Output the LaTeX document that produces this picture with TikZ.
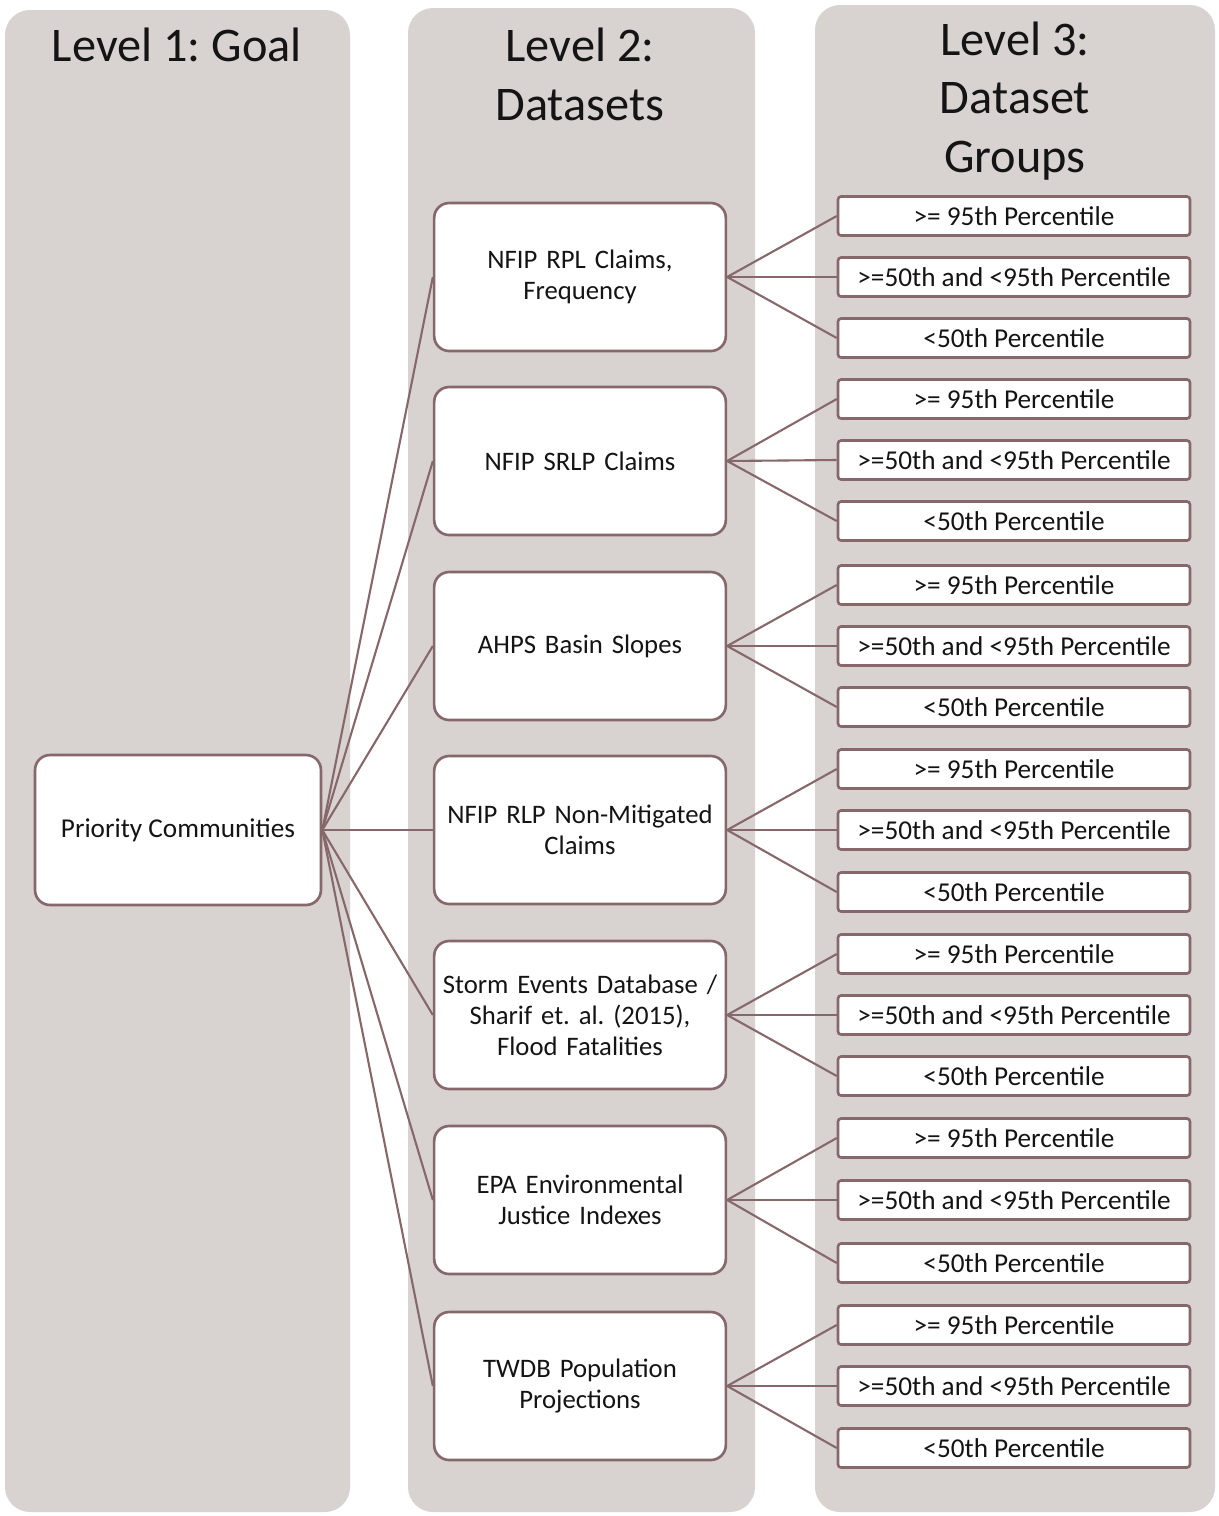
\documentclass[tikz,border=0pt]{standalone}
\usepackage{fontspec}
\setmainfont{Carlito}
\usepackage{tikz}
\frenchspacing
\definecolor{colbg}{RGB}{216,211,209}
\definecolor{edgec}{RGB}{135,104,106}
\definecolor{txt}{RGB}{20,20,20}
\tikzset{
	column/.style={fill=colbg, draw=none, rounded corners=0.5cm},
	head/.style={font=\fontsize{27.5}{33.5}\selectfont, text=txt, align=center},
	goalbox/.style={draw=edgec, line width=1.5pt, fill=white, rounded corners=0.3cm, minimum width=5.72cm, minimum height=3cm, font=\fontsize{15.5}{17.6}\selectfont, text=txt, align=center},
	setbox/.style={draw=edgec, line width=1.5pt, fill=white, rounded corners=0.3cm, minimum width=5.76cm, minimum height=2.96cm, font=\fontsize{15.2}{17.6}\selectfont, text=txt, align=center, text width=5.6cm},
	grpbox/.style={draw=edgec, line width=1.5pt, fill=white, rounded corners=0.06cm, minimum width=7.04cm, minimum height=0.78cm, font=\fontsize{15.5}{17}\selectfont, text=txt, align=center, inner sep=0pt},
	link/.style={draw=edgec, line width=1.2pt}
}

\begin{document}
\begin{tikzpicture}[x=0.02cm, y=-0.02cm]
			%%%%% START %%%%%
			\useasboundingbox (0, 0) rectangle (1219, 1516);
			
			\fill[column] (5, 10) rectangle (350, 1512);
			\fill[column] (408, 8) rectangle (755, 1512);
			\fill[column] (815, 5) rectangle (1215, 1512);
			
			\node[head] (h1) at (177, 45) {Level 1: Goal};
			\node[head] (h2) at (580, 74) {Level 2:\\Datasets};
			\node[head] (h3) at (1015, 101) {Level 3:\\Dataset\\Groups};
			
			\node[goalbox] (pc) at (178, 830) {Priority Communities};
			
			\node[setbox] (ds1) at (580, 277) {NFIP RPL Claims,\\Frequency};
			\node[setbox] (ds2) at (580, 461) {NFIP SRLP Claims};
			\node[setbox] (ds3) at (580, 646) {AHPS Basin Slopes};
			\node[setbox] (ds4) at (580, 830) {NFIP RLP Non-Mitigated\\Claims};
			\node[setbox] (ds5) at (580, 1015) {Storm Events Database /\\Sharif et. al. (2015),\\Flood Fatalities};
			\node[setbox] (ds6) at (580, 1200) {EPA Environmental\\Justice Indexes};
			\node[setbox] (ds7) at (580, 1386) {TWDB Population\\Projections};
			
			\node[grpbox] (g1a) at (1014, 216) {>= 95th Percentile};
			\node[grpbox] (g1b) at (1014, 277) {>=50th and <95th Percentile};
			\node[grpbox] (g1c) at (1014, 338) {<50th Percentile};
			
			\node[grpbox] (g2a) at (1014, 399) {>= 95th Percentile};
			\node[grpbox] (g2b) at (1014, 460) {>=50th and <95th Percentile};
			\node[grpbox] (g2c) at (1014, 521) {<50th Percentile};
			
			\node[grpbox] (g3a) at (1014, 585) {>= 95th Percentile};
			\node[grpbox] (g3b) at (1014, 646) {>=50th and <95th Percentile};
			\node[grpbox] (g3c) at (1014, 707) {<50th Percentile};
			
			\node[grpbox] (g4a) at (1014, 769) {>= 95th Percentile};
			\node[grpbox] (g4b) at (1014, 830) {>=50th and <95th Percentile};
			\node[grpbox] (g4c) at (1014, 892) {<50th Percentile};
			
			\node[grpbox] (g5a) at (1014, 954) {>= 95th Percentile};
			\node[grpbox] (g5b) at (1014, 1015) {>=50th and <95th Percentile};
			\node[grpbox] (g5c) at (1014, 1076) {<50th Percentile};
			
			\node[grpbox] (g6a) at (1014, 1138) {>= 95th Percentile};
			\node[grpbox] (g6b) at (1014, 1200) {>=50th and <95th Percentile};
			\node[grpbox] (g6c) at (1014, 1263) {<50th Percentile};
			
			\node[grpbox] (g7a) at (1014, 1325) {>= 95th Percentile};
			\node[grpbox] (g7b) at (1014, 1386) {>=50th and <95th Percentile};
			\node[grpbox] (g7c) at (1014, 1448) {<50th Percentile};
			
			\draw[link] (pc.east) -- (ds1.west);
			\draw[link] (pc.east) -- (ds2.west);
			\draw[link] (pc.east) -- (ds3.west);
			\draw[link] (pc.east) -- (ds4.west);
			\draw[link] (pc.east) -- (ds5.west);
			\draw[link] (pc.east) -- (ds6.west);
			\draw[link] (pc.east) -- (ds7.west);
			
			\draw[link] (ds1.east) -- (g1a.west);
			\draw[link] (ds1.east) -- (g1b.west);
			\draw[link] (ds1.east) -- (g1c.west);
			\draw[link] (ds2.east) -- (g2a.west);
			\draw[link] (ds2.east) -- (g2b.west);
			\draw[link] (ds2.east) -- (g2c.west);
			\draw[link] (ds3.east) -- (g3a.west);
			\draw[link] (ds3.east) -- (g3b.west);
			\draw[link] (ds3.east) -- (g3c.west);
			\draw[link] (ds4.east) -- (g4a.west);
			\draw[link] (ds4.east) -- (g4b.west);
			\draw[link] (ds4.east) -- (g4c.west);
			\draw[link] (ds5.east) -- (g5a.west);
			\draw[link] (ds5.east) -- (g5b.west);
			\draw[link] (ds5.east) -- (g5c.west);
			\draw[link] (ds6.east) -- (g6a.west);
			\draw[link] (ds6.east) -- (g6b.west);
			\draw[link] (ds6.east) -- (g6c.west);
			\draw[link] (ds7.east) -- (g7a.west);
			\draw[link] (ds7.east) -- (g7b.west);
			\draw[link] (ds7.east) -- (g7c.west);
			
			%%%%% END %%%%%
\end{tikzpicture}
\end{document}
